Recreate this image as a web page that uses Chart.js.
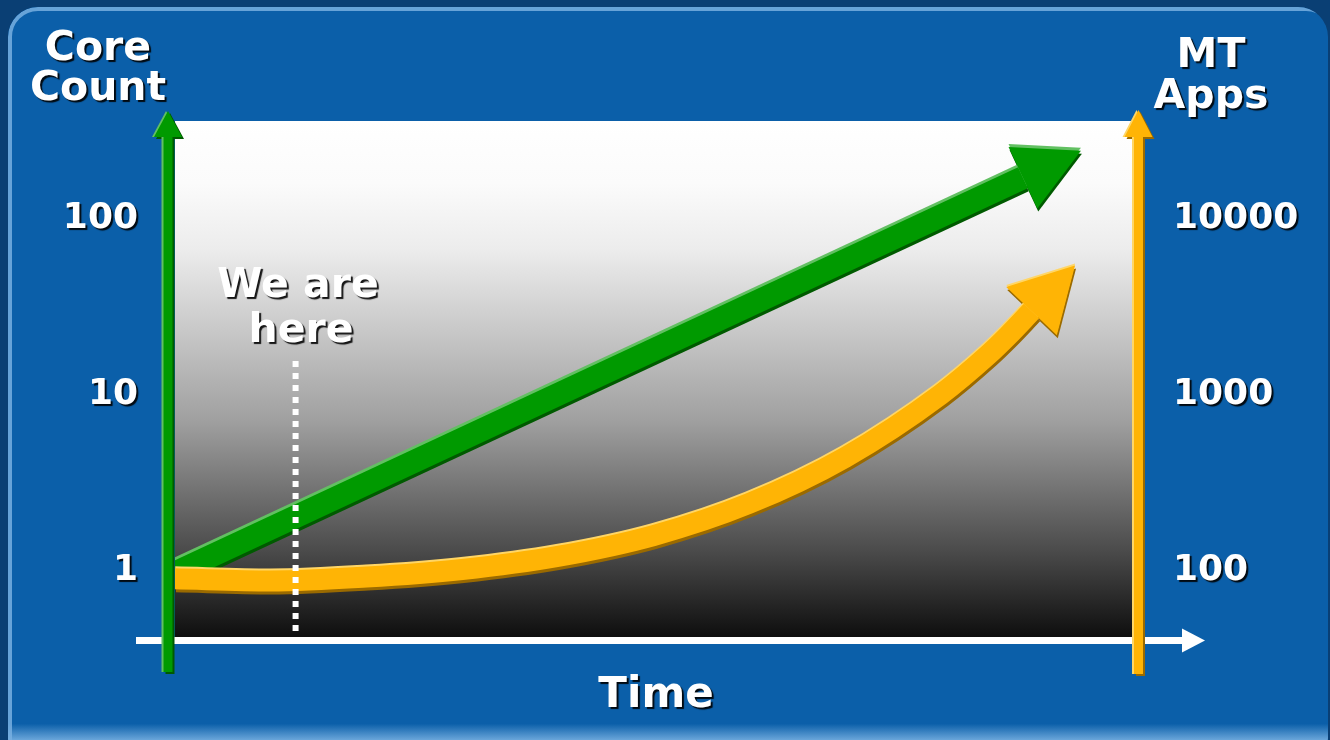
<!DOCTYPE html>
<html>
<head>
<meta charset="utf-8">
<title>Core Count vs MT Apps</title>
<script src="https://cdn.jsdelivr.net/npm/chart.js@4.4.1/dist/chart.umd.min.js"></script>
<style>
  html, body { margin: 0; padding: 0; background: #0a3f74; }
  #wrap { width: 1330px; height: 740px; }
</style>
</head>
<body>
<div id="wrap"><canvas id="chart" width="1330" height="740"></canvas></div>
<script>
// Time runs 0..100 across the plot area
const coreTime = [0, 88.6];
const coreCount = [0.95, 167];
const appsTime = [0, 10, 20, 30, 40, 50, 60, 70, 80, 85, 87, 89.5];
const mtApps = [88, 85.5, 90, 99.4, 118, 155, 236, 430, 980, 1655, 2105, 2920];
const coreTicks = [1, 10, 100];
const appsTicks = [100, 1000, 10000];
const weAreHere = 12.6;

const GREEN = '#009a00', GREEN_LIGHT = '#62c062', GREEN_DARK = '#005a00';
const ORANGE = '#ffb405', ORANGE_LIGHT = '#ffd666', ORANGE_DARK = '#9a6a00';
const FONT = "'DejaVu Sans', Verdana, sans-serif";

const corePts = coreTime.map((t, i) => ({x: t, y: coreCount[i]}));
const appsPts = appsTime.map((t, i) => ({x: t, y: mtApps[i]}));

// one layer of a fat 3D arrow (main colour, highlight or shadow)
function arrowLayer(data, axis, color, width, shift, head, order) {
    return {
        data: data,
        yAxisID: axis,
        borderColor: color,
        borderWidth: width,
        cubicInterpolationMode: 'monotone',
        pointRadius: 0,
        fill: false,
        borderCapStyle: 'butt',
        borderJoinStyle: 'round',
        order: order,
        shift: shift,
        head: head
    };
}

const greenHead = {len: 64, width: 68};
const orangeHead = {len: 63, width: 70};

function shadowText(ctx, text, x, y, size, align) {
    ctx.save();
    ctx.font = `bold ${size}px ${FONT}`;
    ctx.textAlign = align || 'center';
    ctx.textBaseline = 'alphabetic';
    ctx.shadowColor = 'rgba(0,0,0,0.9)';
    ctx.shadowOffsetX = 2;
    ctx.shadowOffsetY = 2;
    ctx.shadowBlur = 1;
    ctx.fillStyle = '#ffffff';
    ctx.fillText(text, x, y);
    ctx.restore();
}

function vArrow(ctx, x, tipY, baseY, bottom, shaftW, headW, main, light, dark) {
    const shape = (dx, dy) => {
        ctx.beginPath();
        ctx.moveTo(x + dx, tipY + dy);
        ctx.lineTo(x + headW / 2 + dx, baseY + dy);
        ctx.lineTo(x + shaftW / 2 + dx, baseY + dy);
        ctx.lineTo(x + shaftW / 2 + dx, bottom + dy);
        ctx.lineTo(x - shaftW / 2 + dx, bottom + dy);
        ctx.lineTo(x - shaftW / 2 + dx, baseY + dy);
        ctx.lineTo(x - headW / 2 + dx, baseY + dy);
        ctx.closePath();
    };
    ctx.fillStyle = dark; shape(2, 2); ctx.fill();
    ctx.fillStyle = light; shape(-2, 0); ctx.fill();
    ctx.fillStyle = main; shape(0, 0); ctx.fill();
}

const backdrop = {
    id: 'backdrop',
    beforeDraw(chart) {
        const {ctx, chartArea: ca, width, height} = chart;
        ctx.save();
        ctx.fillStyle = '#0a3f74';
        ctx.fillRect(0, 0, width, height);

        // rounded blue panel
        ctx.beginPath();
        ctx.roundRect(8, 7, width - 10, height + 20, 30);
        const pg = ctx.createLinearGradient(0, 0, 0, height);
        pg.addColorStop(0, '#0b5fa9');
        pg.addColorStop(0.978, '#0b5fa9');
        pg.addColorStop(1, '#6aa6da');
        ctx.fillStyle = pg;
        ctx.fill();
        ctx.clip();
        ctx.strokeStyle = 'rgba(120,175,225,0.85)';
        ctx.lineWidth = 4;
        ctx.beginPath();
        ctx.roundRect(10, 9, width - 6, height + 20, 28);
        ctx.stroke();
        ctx.restore();

        // plot area gradient
        ctx.save();
        const g = ctx.createLinearGradient(0, ca.top, 0, ca.bottom);
        g.addColorStop(0, '#ffffff');
        g.addColorStop(0.12, '#fbfbfb');
        g.addColorStop(0.25, '#ececec');
        g.addColorStop(0.58, '#a0a0a0');
        g.addColorStop(0.83, '#4c4c4c');
        g.addColorStop(1, '#0e0e0e');
        ctx.fillStyle = g;
        ctx.fillRect(ca.left, ca.top, ca.right - ca.left, ca.bottom - ca.top);
        ctx.restore();

        // shadow for the tick labels the scales draw next
        ctx.save();
        ctx.shadowColor = 'rgba(0,0,0,0.9)';
        ctx.shadowOffsetX = 2;
        ctx.shadowOffsetY = 2;
        ctx.shadowBlur = 1;
    },
    beforeDatasetsDraw(chart) {
        chart.ctx.restore();
    },
    beforeDatasetDraw(chart, args) {
        const ds = chart.data.datasets[args.index];
        chart.ctx.save();
        chart.ctx.translate(ds.shift[0], ds.shift[1]);
    },
    afterDatasetDraw(chart, args) {
        const ctx = chart.ctx;
        const ds = chart.data.datasets[args.index];
        const pts = args.meta.data;
        const last = pts[pts.length - 1];
        const prev = pts[pts.length - 2];
        const ang = Math.atan2(last.y - prev.y, last.x - prev.x);
        const ux = Math.cos(ang), uy = Math.sin(ang);
        const nx = -uy, ny = ux;
        const hw = ds.head.width / 2;
        ctx.fillStyle = ds.borderColor;
        ctx.beginPath();
        ctx.moveTo(last.x + ux * ds.head.len, last.y + uy * ds.head.len);
        ctx.lineTo(last.x + nx * hw, last.y + ny * hw);
        ctx.lineTo(last.x - nx * hw, last.y - ny * hw);
        ctx.closePath();
        ctx.fill();
        ctx.restore();
    },
    afterDraw(chart) {
        const {ctx, chartArea: ca} = chart;
        ctx.save();

        // time axis
        const ay = ca.bottom + 3.5;
        ctx.fillStyle = '#ffffff';
        ctx.fillRect(136, ay - 3.5, 1048, 7);
        ctx.beginPath();
        ctx.moveTo(1182, ay - 12);
        ctx.lineTo(1205, ay);
        ctx.lineTo(1182, ay + 12);
        ctx.closePath();
        ctx.fill();

        // "we are here" marker
        const hx = chart.scales.x.getPixelForValue(weAreHere);
        ctx.strokeStyle = '#ffffff';
        ctx.lineWidth = 6;
        ctx.setLineDash([6, 6]);
        ctx.beginPath();
        ctx.moveTo(hx, 361);
        ctx.lineTo(hx, ca.bottom - 6);
        ctx.stroke();
        ctx.setLineDash([]);

        // value axes
        vArrow(ctx, ca.left - 7, ca.top - 10, ca.top + 16, ca.bottom + 35, 9, 28, GREEN, GREEN_LIGHT, GREEN_DARK);
        vArrow(ctx, ca.right + 6.5, ca.top - 11, ca.top + 16, ca.bottom + 37, 9, 28, ORANGE, ORANGE_LIGHT, ORANGE_DARK);
        ctx.restore();

        shadowText(ctx, 'Core', 98, 60, 41);
        shadowText(ctx, 'Count', 98, 100, 41);
        shadowText(ctx, 'MT', 1211, 67, 41);
        shadowText(ctx, 'Apps', 1211, 108, 41);
        shadowText(ctx, 'Time', 656, 707, 42);
        shadowText(ctx, 'We are', 298, 297, 41);
        shadowText(ctx, 'here', 301, 342, 41);
    }
};

const tickFont = {family: FONT, weight: 'bold', size: 36};

new Chart(document.getElementById('chart'), {
    type: 'line',
    data: {
        datasets: [
            arrowLayer(appsPts, 'yApps', ORANGE, 21, [0, 0], orangeHead, 0),
            arrowLayer(appsPts, 'yApps', ORANGE_LIGHT, 21, [0, -2], orangeHead, 1),
            arrowLayer(appsPts, 'yApps', ORANGE_DARK, 21, [1, 3], orangeHead, 2),
            arrowLayer(corePts, 'yCore', GREEN, 23, [0, 0], greenHead, 3),
            arrowLayer(corePts, 'yCore', GREEN_LIGHT, 23, [0, -3], greenHead, 4),
            arrowLayer(corePts, 'yCore', GREEN_DARK, 23, [1, 3], greenHead, 5)
        ]
    },
    options: {
        responsive: false,
        animation: false,
        devicePixelRatio: 1,
        layout: {padding: {top: 121, bottom: 103, left: 0, right: 0}},
        plugins: {legend: {display: false}, tooltip: {enabled: false}},
        scales: {
            x: {type: 'linear', min: 0, max: 100, display: false},
            yCore: {
                type: 'logarithmic',
                position: 'left',
                min: 0.411,
                max: 351,
                bounds: 'data',
                grid: {display: false, drawTicks: false},
                border: {display: false},
                afterBuildTicks: scale => { scale.ticks = coreTicks.map(v => ({value: v})); },
                afterFit: scale => { scale.width = 175; },
                ticks: {color: '#ffffff', font: tickFont, padding: 37, labelOffset: 2, callback: v => String(v)}
            },
            yApps: {
                type: 'logarithmic',
                position: 'right',
                min: 41.1,
                max: 35100,
                bounds: 'data',
                grid: {display: false, drawTicks: false},
                border: {display: false},
                afterBuildTicks: scale => { scale.ticks = appsTicks.map(v => ({value: v})); },
                afterFit: scale => { scale.width = 198; },
                ticks: {color: '#ffffff', font: tickFont, padding: 41, labelOffset: 2, callback: v => String(v)}
            }
        }
    },
    plugins: [backdrop]
});
</script>
</body>
</html>
